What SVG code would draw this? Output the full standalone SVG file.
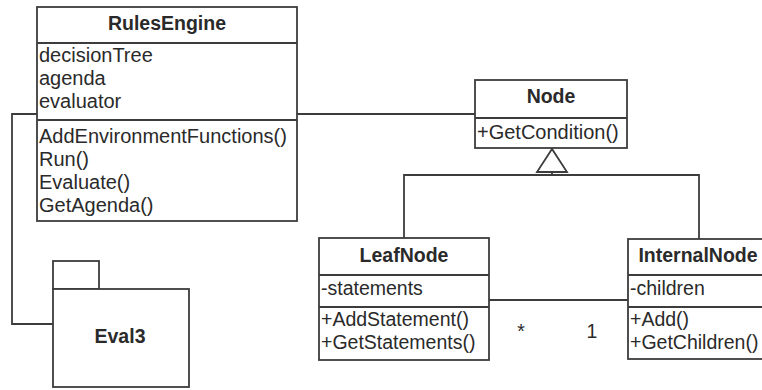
<svg xmlns="http://www.w3.org/2000/svg" width="762" height="390" viewBox="0 0 762 390">
<style>
.box{fill:#fff;stroke:#3c3c3c;stroke-width:1.8}
.ln{fill:none;stroke:#3c3c3c;stroke-width:1.8}
text{font-family:"Liberation Sans",Arial,sans-serif;font-size:19.5px;fill:#2a2a2a}
.t{font-weight:bold;text-anchor:middle}
.w{font-size:20px}
</style>
<rect width="762" height="390" fill="#fff"/>
<g id="connectors">
<polyline class="ln" points="297,114 475,114"/>
<polyline class="ln" points="37,114 12,114 12,324 53,324"/>
<polyline class="ln" points="404,238 404,175 699,175 699,239"/>
<line class="ln" x1="552" y1="175" x2="552" y2="171"/>
<polygon class="box" points="552,149 537,172 567,172"/>
<line class="ln" x1="489" y1="300" x2="628" y2="300"/>
<text x="521" y="338" text-anchor="middle">*</text>
<text x="592" y="338" text-anchor="middle">1</text>
</g>
<g id="RulesEngine">
<rect class="box" x="37" y="7" width="260" height="214"/>
<line class="ln" x1="37" y1="43" x2="297" y2="43"/>
<line class="ln" x1="37" y1="120" x2="297" y2="120"/>
<text class="t" x="167" y="30">RulesEngine</text>
<text class="w" x="39" y="62">decisionTree</text>
<text class="w" x="39" y="85">agenda</text>
<text class="w" x="39" y="108">evaluator</text>
<text class="w" x="39" y="143">AddEnvironmentFunctions()</text>
<text class="w" x="39" y="166">Run()</text>
<text class="w" x="39" y="189">Evaluate()</text>
<text class="w" x="39" y="212">GetAgenda()</text>
</g>
<g id="Node">
<rect class="box" x="475" y="80" width="152" height="68"/>
<line class="ln" x1="475" y1="118" x2="627" y2="118"/>
<text class="t" x="551" y="103">Node</text>
<text class="w" x="477" y="139">+GetCondition()</text>
</g>
<g id="LeafNode">
<rect class="box" x="319" y="238" width="170" height="122"/>
<line class="ln" x1="319" y1="275" x2="489" y2="275"/>
<line class="ln" x1="319" y1="307" x2="489" y2="307"/>
<text class="t" x="404" y="262">LeafNode</text>
<text x="321" y="295">-statements</text>
<text x="321" y="326">+AddStatement()</text>
<text x="321" y="349">+GetStatements()</text>
</g>
<g id="InternalNode">
<rect class="box" x="628" y="239" width="142" height="120"/>
<line class="ln" x1="628" y1="275" x2="770" y2="275"/>
<line class="ln" x1="628" y1="307" x2="770" y2="307"/>
<text class="t" x="698" y="262">InternalNode</text>
<text x="630" y="295">-children</text>
<text x="630" y="326">+Add()</text>
<text x="630" y="349">+GetChildren()</text>
</g>
<g id="Eval3">
<rect class="box" x="53" y="261" width="46" height="28"/>
<rect class="box" x="53" y="289" width="136" height="98"/>
<text class="t" x="120" y="343">Eval3</text>
</g>
</svg>
